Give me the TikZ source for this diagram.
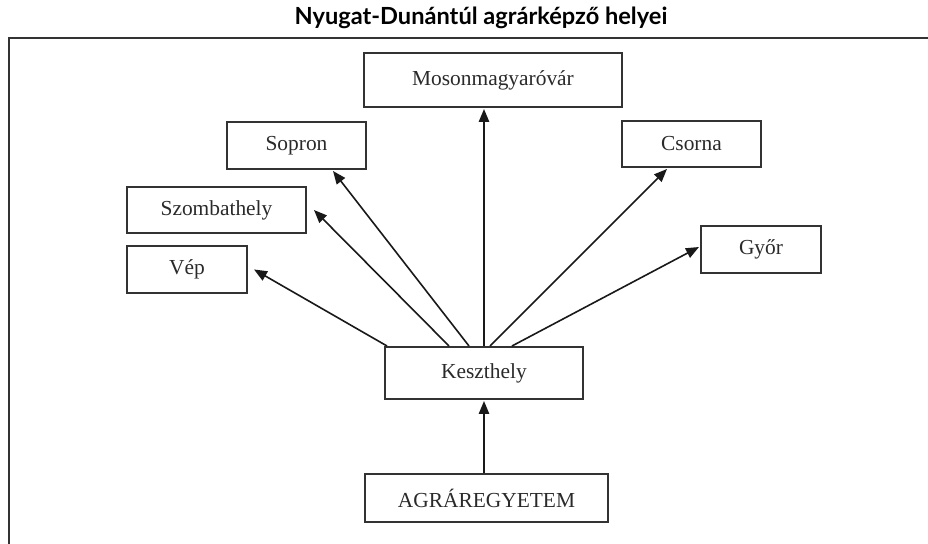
\documentclass[tikz,border=0pt]{standalone}
\usepackage{fontspec}
\setmainfont{Liberation Serif}
\newfontfamily\titlefont{Lato}
\usetikzlibrary{arrows.meta}
\definecolor{linegray}{HTML}{333333}
\definecolor{textgray}{HTML}{2A2A2A}
\tikzset{
  placebox/.style={draw=linegray, line width=1pt, inner sep=0pt, text=textgray,
    font=\fontsize{10.7pt}{12pt}\selectfont},
  arr/.style={draw=black!90, line width=0.8pt, -{Triangle[length=6.5pt,width=5.2pt]}},
  framerule/.style={draw=linegray, line width=1pt}
}
\begin{document}
\begin{tikzpicture}[x=0.5pt,y=-0.5pt]
\useasboundingbox (0,0) rectangle (928,544);
% title
\node[font=\titlefont\bfseries\fontsize{11.8pt}{14pt}\selectfont, text=black] (title) at (481,18) {Nyugat-Dunántúl agrárképző helyei};
% frame
\coordinate (ftr) at (928,38);
\coordinate (ftl) at (9,38);
\coordinate (fbl) at (9,544);
\draw[framerule] (ftr) -- (ftl) -- (fbl);
% boxes
\node[placebox, minimum width=129pt, minimum height=27pt] (moson) at (493,80) {Mosonmagyaróvár};
\node[placebox, minimum width=69.5pt, minimum height=23.5pt] (sopron) at (296.5,145.5) {Sopron};
\node[placebox, minimum width=89.5pt, minimum height=23pt] (szomb) at (216.5,210) {Szombathely};
\node[placebox, minimum width=60pt, minimum height=23.5pt] (vep) at (187,269.5) {Vép};
\node[placebox, minimum width=69.5pt, minimum height=23pt] (csorna) at (691.5,144) {Csorna};
\node[placebox, minimum width=60pt, minimum height=23.5pt] (gyor) at (761,249.5) {Győr};
\node[placebox, minimum width=99pt, minimum height=26pt] (kesz) at (484,373) {Keszthely};
\node[placebox, minimum width=121.5pt, minimum height=24pt] (agrar) at (486.5,498) {AGRÁREGYETEM};
% connectors
\draw[arr] ([xshift=1.5pt]kesz.north west) -- ([xshift=3pt]vep.east);
\draw[arr] ([xshift=32.5pt]kesz.north west) -- ([xshift=3.5pt]szomb.east);
\draw[arr] ([xshift=42.5pt]kesz.north west) -- ([xshift=18.25pt,yshift=-0.5pt]sopron.south);
\draw[arr] (kesz.north) -- ([xshift=-4.5pt,yshift=-0.5pt]moson.south);
\draw[arr] ([xshift=3pt]kesz.north) -- ([xshift=-12.25pt,yshift=-0.5pt]csorna.south);
\draw[arr] ([xshift=14pt]kesz.north) -- ([xshift=-0.5pt,yshift=1.25pt]gyor.west);
\draw[arr] ([xshift=-1.25pt]agrar.north) -- ([yshift=-0.5pt]kesz.south);
\end{tikzpicture}
\end{document}
